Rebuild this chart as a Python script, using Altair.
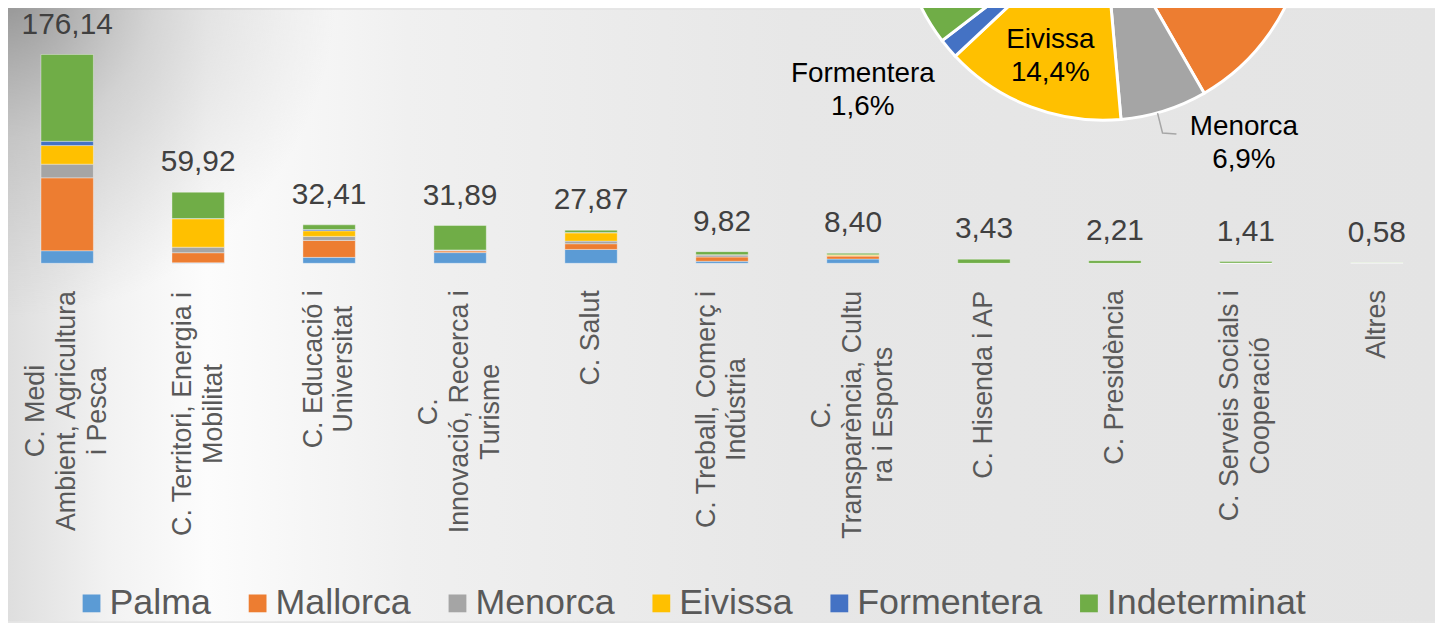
import altair as alt
import pandas as pd

FONT = "Liberation Sans"

# ---------------- data ----------------
categories = [
    "C. Medi Ambient, Agricultura i Pesca",
    "C. Territori, Energia i Mobilitat",
    "C. Educació i Universitat",
    "C. Innovació, Recerca i Turisme",
    "C. Salut",
    "C. Treball, Comerç i Indústria",
    "C. Transparència, Cultura i Esports",
    "C. Hisenda i AP",
    "C. Presidència",
    "C. Serveis Socials i Cooperació",
    "Altres",
]
category_lines = [
    ["C. Medi", "Ambient, Agricultura", "i Pesca"],
    ["C. Territori, Energia i", "Mobilitat"],
    ["C. Educació i", "Universitat"],
    ["C.", "Innovació, Recerca i", "Turisme"],
    ["C. Salut"],
    ["C. Treball, Comerç i", "Indústria"],
    ["C.", "Transparència, Cultu", "ra i Esports"],
    ["C. Hisenda i AP"],
    ["C. Presidència"],
    ["C. Serveis Socials i", "Cooperació"],
    ["Altres"],
]
series = ["Palma", "Mallorca", "Menorca", "Eivissa", "Formentera", "Indeterminat"]
series_colors = ["#5B9BD5", "#ED7D31", "#A5A5A5", "#FFC000", "#4472C4", "#70AD47"]

palma        = [10.6,  0.5,  5.0,  9.0, 11.7, 1.7, 3.6, 0.0,  0.0,  0.0,  0.0]
mallorca     = [61.5,  8.4, 14.3,  1.4,  4.8, 3.6, 2.5, 0.0,  0.0,  0.0,  0.0]
menorca      = [11.5,  4.7,  3.4,  0.8,  2.2, 1.7, 0.3, 0.0,  0.0,  0.2,  0.48]
eivissa      = [15.7, 24.0,  4.7,  0.1,  7.0, 0.3, 0.8, 0.0,  0.0,  0.0,  0.0]
formentera   = [ 3.6,  0.1,  1.1,  0.0,  0.2, 0.0, 0.0, 0.0,  0.0,  0.0,  0.0]
indeterminat = [73.24, 22.22, 3.91, 20.59, 1.97, 2.52, 1.2, 3.43, 2.21, 1.21, 0.1]
totals = [176.14, 59.92, 32.41, 31.89, 27.87, 9.82, 8.40, 3.43, 2.21, 1.41, 0.58]

pie_share = [12.0, 29.7, 6.9, 14.4, 1.6, 35.4]
pie_labels = ["Palma", "Mallorca", "Menorca", "Eivissa", "Formentera", "Indeterminat"]
pie_pct = ["12,0%", "29,7%", "6,9%", "14,4%", "1,6%", "35,4%"]

# ---------------- layout constants ----------------
W, H = 1435, 255          # plot area (bars)
PAD_BOTTOM = 360
TOTAL_H = H + PAD_BOTTOM
Y_MAX = 213.9             # value at top of plot area
PIE_CX, PIE_CY, PIE_R = 1101.3, -92.9, 204
LABEL_FS = 27
LABEL_LH = 31

# Arial-like widths (per 1000 em) to centre multi-line rotated labels
CW = {" ": 278, ".": 278, ",": 278, "C": 722, "A": 667, "M": 833, "T": 611, "E": 667,
      "S": 667, "P": 667, "I": 278, "H": 722, "U": 722, "R": 722, "a": 556, "b": 556,
      "c": 500, "d": 556, "e": 556, "g": 556, "i": 222, "l": 222, "m": 833, "n": 556,
      "o": 556, "p": 556, "r": 333, "s": 500, "t": 278, "u": 556, "v": 500, "ç": 500,
      "à": 556, "è": 556, "ó": 556, "ú": 556, "í": 278, "y": 500, "f": 278}


def text_w(s, fs):
    return sum(CW.get(ch, 556) for ch in s) * fs / 1000.0


series_values = [palma, mallorca, menorca, eivissa, formentera, indeterminat]
bar_rows = []
for si, (name, vals) in enumerate(zip(series, series_values)):
    for ci, cat in enumerate(categories):
        bar_rows.append({"cat": cat, "series": name, "sidx": si, "value": vals[ci]})

tot_rows = [{"cat": c, "total": t, "label": f"{t:.2f}".replace(".", ",")}
            for c, t in zip(categories, totals)]

lab_rows = []
for c, lines in zip(categories, category_lines):
    mw = max(text_w(l, LABEL_FS) for l in lines)
    lab_rows.append({"cat": c, "lines": lines, "n": len(lines), "ly": H + 27 + mw / 2})

pie_rows = []
for i, (s, v, l, p) in enumerate(zip(series, pie_share, pie_labels, pie_pct)):
    pie_rows.append({
        "series": s, "idx": i, "share": v,
        "lbl_in": [l, p] if s == "Eivissa" else [""],
        "lbl_f": [l, p] if s == "Formentera" else [""],
        "lbl_m": [l, p] if s == "Menorca" else [""],
    })

# ---------------- scales ----------------
x_scale = alt.Scale(domain=categories, paddingInner=0.6, paddingOuter=0.248, align=0.508)
y_scale = alt.Scale(domain=[0, Y_MAX], nice=False, zero=True)
color_scale = alt.Scale(domain=series, range=series_colors)
legend = alt.Legend(orient="none", legendX=66, legendY=579, direction="horizontal",
                    title=None, symbolType="square", symbolSize=320, symbolStrokeWidth=0,
                    labelFontSize=36, labelFont=FONT, labelColor="#595959", labelOffset=0,
                    columnPadding=28, padding=0, labelLimit=0, symbolOpacity=1)

one = alt.Data(values=[{"k": 0}])

# ---------------- background ----------------
bg = alt.Chart(one).mark_rect(
    fill=alt.LinearGradient(
        gradient="linear", x1=0, x2=1, y1=0, y2=0,
        stops=[alt.GradientStop(offset=0, color="#dedede"),
               alt.GradientStop(offset=0.07, color="#f2f2f2"),
               alt.GradientStop(offset=0.14, color="#fcfcfc"),
               alt.GradientStop(offset=0.28, color="#f0f0f0"),
               alt.GradientStop(offset=0.55, color="#e7e7e7"),
               alt.GradientStop(offset=1, color="#e4e4e4")])
).encode(x=alt.value(0), x2=alt.value(W), y=alt.value(0), y2=alt.value(TOTAL_H))

corner = alt.Chart(one).mark_rect(
    fill=alt.RadialGradient(
        gradient="radial", x1=0.5, y1=0.5, r1=0, x2=0.5, y2=0.5, r2=0.5,
        stops=[alt.GradientStop(offset=0, color="rgba(120,120,120,0.75)"),
               alt.GradientStop(offset=0.45, color="rgba(150,150,150,0.35)"),
               alt.GradientStop(offset=1, color="rgba(160,160,160,0)")])
).encode(x=alt.value(-330), x2=alt.value(330), y=alt.value(-350), y2=alt.value(310))

# ---------------- bars ----------------
bars = alt.Chart(alt.Data(values=bar_rows)).mark_bar(
    stroke="#ffffff", strokeWidth=0.6, strokeOpacity=0.6
).encode(
    x=alt.X("cat:N", sort=categories, scale=x_scale,
            axis=alt.Axis(labels=False, ticks=False, title=None, grid=False,
                          domainColor="#d0d0d0", domainWidth=2)),
    y=alt.Y("value:Q", stack="zero", scale=y_scale, axis=None),
    color=alt.Color("series:N", scale=color_scale, legend=legend),
    order=alt.Order("sidx:Q", sort="ascending"),
)

tot_text = alt.Chart(alt.Data(values=tot_rows)).mark_text(
    dy=-21, baseline="alphabetic", align="center", fontSize=30, font=FONT, color="#404040"
).encode(
    x=alt.X("cat:N", sort=categories, scale=x_scale, axis=None),
    y=alt.Y("total:Q", scale=y_scale, axis=None),
    text=alt.Text("label:N"),
)


def cat_text(nlines):
    # rotated text: negative dy moves the line block left on screen
    return alt.Chart(alt.Data(values=lab_rows)).transform_filter(
        alt.datum.n == nlines
    ).mark_text(
        angle=270, align="center", baseline="middle", fontSize=LABEL_FS, lineHeight=LABEL_LH,
        font=FONT, color="#595959", dy=-(nlines - 1) * LABEL_LH / 2
    ).encode(
        x=alt.X("cat:N", sort=categories, scale=x_scale, axis=None),
        y=alt.Y("ly:Q", scale=None, axis=None),
        text=alt.Text("lines:N"),
    )


# ---------------- pie ----------------
pie_data = alt.Data(values=pie_rows)
theta = alt.Theta("share:Q", stack=True)
pie = alt.Chart(pie_data).mark_arc(outerRadius=PIE_R, stroke="#ffffff", strokeWidth=3).encode(
    theta=theta,
    color=alt.Color("series:N", scale=color_scale, legend=legend),
    order=alt.Order("idx:Q", sort="ascending"),
    x=alt.value(PIE_CX), y=alt.value(PIE_CY),
)


def pie_label(field, radius, dx=0, dy=0):
    return alt.Chart(pie_data).mark_text(
        radius=radius, dx=dx, dy=dy - 16.5, align="center", baseline="middle",
        fontSize=28, lineHeight=33, font=FONT, color="#000000"
    ).encode(
        theta=theta,
        detail=alt.Detail("series:N"),
        order=alt.Order("idx:Q", sort="ascending"),
        x=alt.value(PIE_CX), y=alt.value(PIE_CY),
        text=alt.Text(f"{field}:N"),
    )


lab_in = pie_label("lbl_in", 149, dy=1)
lab_f = pie_label("lbl_f", 296, dx=-16, dy=-17)
lab_m = pie_label("lbl_m", 275, dx=59, dy=-35)

leader = alt.Chart(alt.Data(values=[
    {"px": 1156, "py": 104, "o": 0}, {"px": 1161, "py": 124, "o": 1}, {"px": 1175, "py": 125, "o": 2}
])).mark_line(color="#a6a6a6", strokeWidth=1.5).encode(
    x=alt.X("px:Q", scale=None, axis=None),
    y=alt.Y("py:Q", scale=None, axis=None),
    order="o:Q",
)

chart = alt.layer(
    bg, corner, bars, tot_text, cat_text(1), cat_text(2), cat_text(3),
    pie, lab_in, lab_f, lab_m, leader
).resolve_scale(
    y="independent", x="shared"
).properties(
    width=W, height=H,
    autosize=alt.AutoSizeParams(type="none"),
    padding={"left": 0, "top": 0, "right": 0, "bottom": PAD_BOTTOM},
).configure_view(strokeWidth=0).configure(background="#e6e6e6")

chart.save("out.html", embed_options={"renderer": "svg", "actions": False})
